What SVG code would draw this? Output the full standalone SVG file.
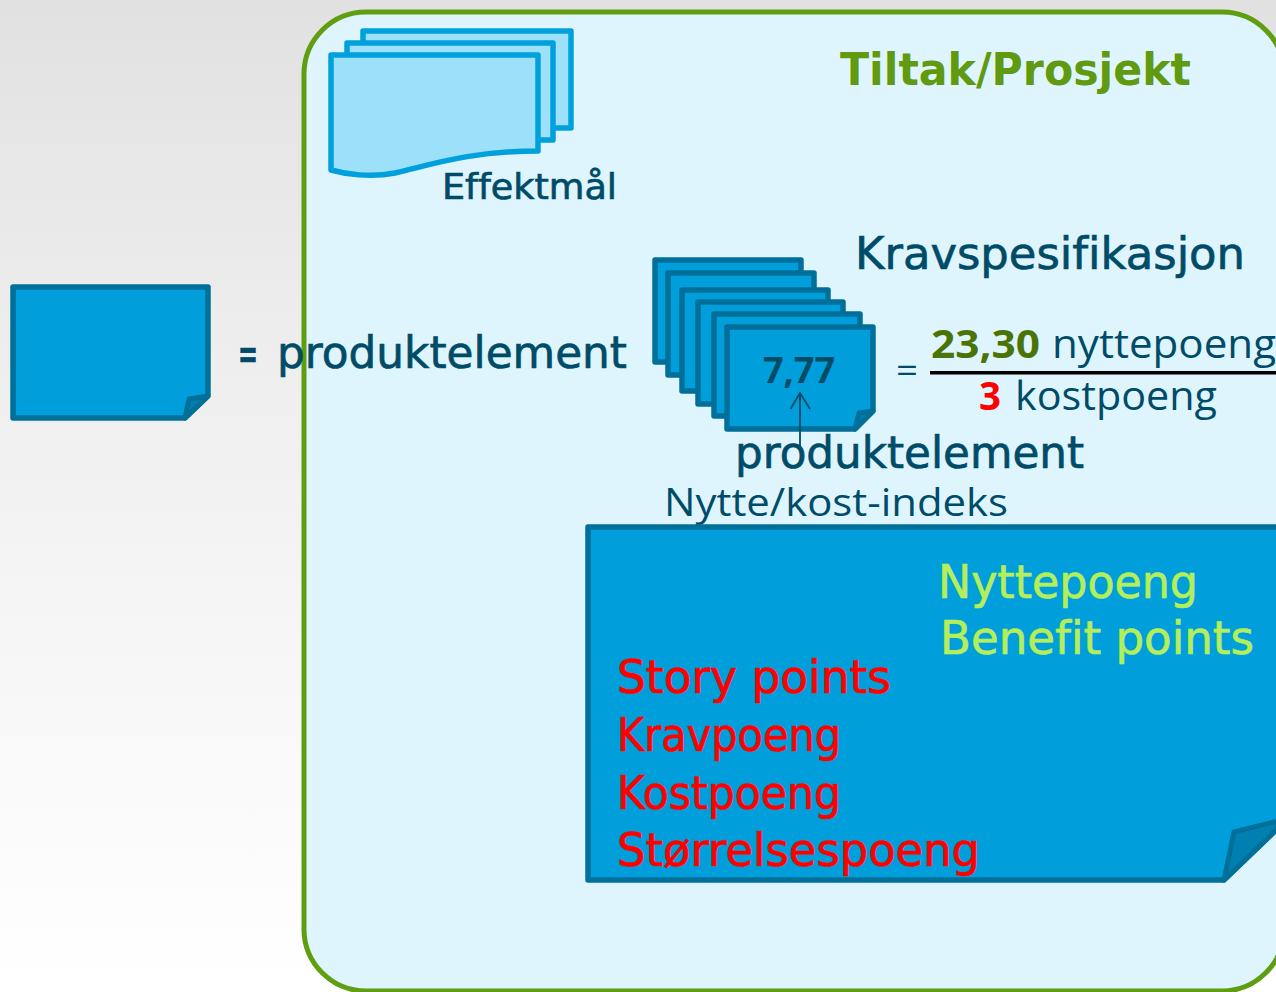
<svg xmlns="http://www.w3.org/2000/svg" width="1276" height="992" viewBox="0 0 1276 992">
<style>
text{font-variant-ligatures:none}
.c{font-family:"DejaVu Sans","Liberation Sans",sans-serif;stroke-width:.7}
.o{font-family:"Open Sans","Noto Sans",sans-serif}
.d{fill:#004c68}
.c.d{stroke:#004c68}
.note{fill:#009fdb;stroke:#006f99;stroke-width:5.5;stroke-linejoin:round}
.fold{fill:#0080b0;stroke:#006f99;stroke-width:5;stroke-linejoin:round}
.doc{fill:#9de0fa;stroke:#00a0dc;stroke-width:5.5;stroke-linejoin:round}
.g{fill:#b4ee5a}
.c.g{stroke:#b4ee5a}
.r{fill:#ff0000}
.c.r{stroke:#ff0000}
</style>
<defs>
<linearGradient id="bg" x1="0" y1="0" x2="0" y2="1"><stop offset="0" stop-color="#e1e1e1"/><stop offset=".3" stop-color="#ececec"/><stop offset=".6" stop-color="#f5f5f5"/><stop offset="1" stop-color="#ffffff"/></linearGradient>
</defs>
<rect width="1276" height="992" fill="url(#bg)"/>
<g id="tiltak">
<rect x="304" y="12" width="980" height="979" rx="62" fill="#dff5fe" stroke="#5f9e10" stroke-width="5"/>
<text x="840" y="85" font-size="44" font-weight="700" fill="#5f9a10" class="c" textLength="351" lengthAdjust="spacingAndGlyphs">Tiltak/Prosjekt</text>
</g>
<g id="effektmal">
<rect class="doc" x="363" y="31" width="208" height="97"/>
<rect class="doc" x="347" y="43" width="206" height="97"/>
<path class="doc" d="M331 55H538V151C470 151 430 165 395 173C370 178 345 174 331 170Z"/>
<text class="c d" x="442" y="199" font-size="36" textLength="175" lengthAdjust="spacingAndGlyphs">Effektmål</text>
</g>
<g id="legend">
<path class="note" d="M13 287H208V396L185 418H13Z"/>
<path class="fold" d="M185 418L189 399L208 396Z"/>
<text class="c d" x="238" y="368" font-size="40" textLength="20" lengthAdjust="spacingAndGlyphs" font-weight="700">=</text>
<text class="c d" x="277" y="368" font-size="44" textLength="350" lengthAdjust="spacingAndGlyphs">produktelement</text>
</g>
<g id="kravspesifikasjon">
<rect class="note" x="655" y="260" width="146" height="102"/>
<rect class="note" x="668" y="273" width="146" height="102"/>
<rect class="note" x="682" y="290" width="146" height="101"/>
<rect class="note" x="698" y="302" width="145" height="102"/>
<rect class="note" x="714" y="314" width="146" height="102"/>
<path class="note" d="M727 327H873V411L855 429H727Z"/>
<path class="fold" d="M855 429L859 413L873 411Z"/>
<text class="o" x="799" y="383" font-size="36" font-weight="700" fill="#004c68" text-anchor="middle">7,77</text>
<text class="c d" x="855" y="269" font-size="44" textLength="390" lengthAdjust="spacingAndGlyphs">Kravspesifikasjon</text>
<text class="c d" x="735" y="468" font-size="44" textLength="349" lengthAdjust="spacingAndGlyphs">produktelement</text>
<text class="o d" x="664" y="516" font-size="38" textLength="344" lengthAdjust="spacingAndGlyphs">Nytte/kost-indeks</text>
</g>
<g id="connectors">
<path d="M800 447V393M790.500 409L800 393L810 409" fill="none" stroke="#004c68" stroke-width="1.8"/>
</g>
<g id="formula">
<text class="o d" x="896" y="383" font-size="34" textLength="22" lengthAdjust="spacingAndGlyphs">=</text>
<text class="o" x="931" y="358" font-size="40" font-weight="700" fill="#4a7308" textLength="109" lengthAdjust="spacingAndGlyphs">23,30</text>
<text class="o d" x="1052" y="358" font-size="40" textLength="224" lengthAdjust="spacingAndGlyphs">nyttepoeng</text>
<rect x="930" y="371" width="346" height="3.500" fill="#000"/>
<text class="o r" x="979" y="410" font-size="40" font-weight="700" textLength="22" lengthAdjust="spacingAndGlyphs">3</text>
<text class="o d" x="1015" y="410" font-size="40" textLength="202" lengthAdjust="spacingAndGlyphs">kostpoeng</text>
</g>
<g id="poeng">
<path class="note" d="M588 527H1300V807L1224 880H588Z"/>
<path class="fold" d="M1224 880L1234 832L1282 820L1276 830Z"/>
<text class="c g" x="938" y="598" font-size="46" textLength="260" lengthAdjust="spacingAndGlyphs">Nyttepoeng</text>
<text class="c g" x="940" y="654" font-size="46" textLength="314" lengthAdjust="spacingAndGlyphs">Benefit points</text>
<text class="c r" x="617" y="693" font-size="46" textLength="274" lengthAdjust="spacingAndGlyphs">Story points</text>
<text class="c r" x="617" y="751" font-size="46" textLength="224" lengthAdjust="spacingAndGlyphs">Kravpoeng</text>
<text class="c r" x="617" y="809" font-size="46" textLength="224" lengthAdjust="spacingAndGlyphs">Kostpoeng</text>
<text class="c r" x="617" y="866" font-size="46" textLength="363" lengthAdjust="spacingAndGlyphs">Størrelsespoeng</text>
</g>
</svg>
